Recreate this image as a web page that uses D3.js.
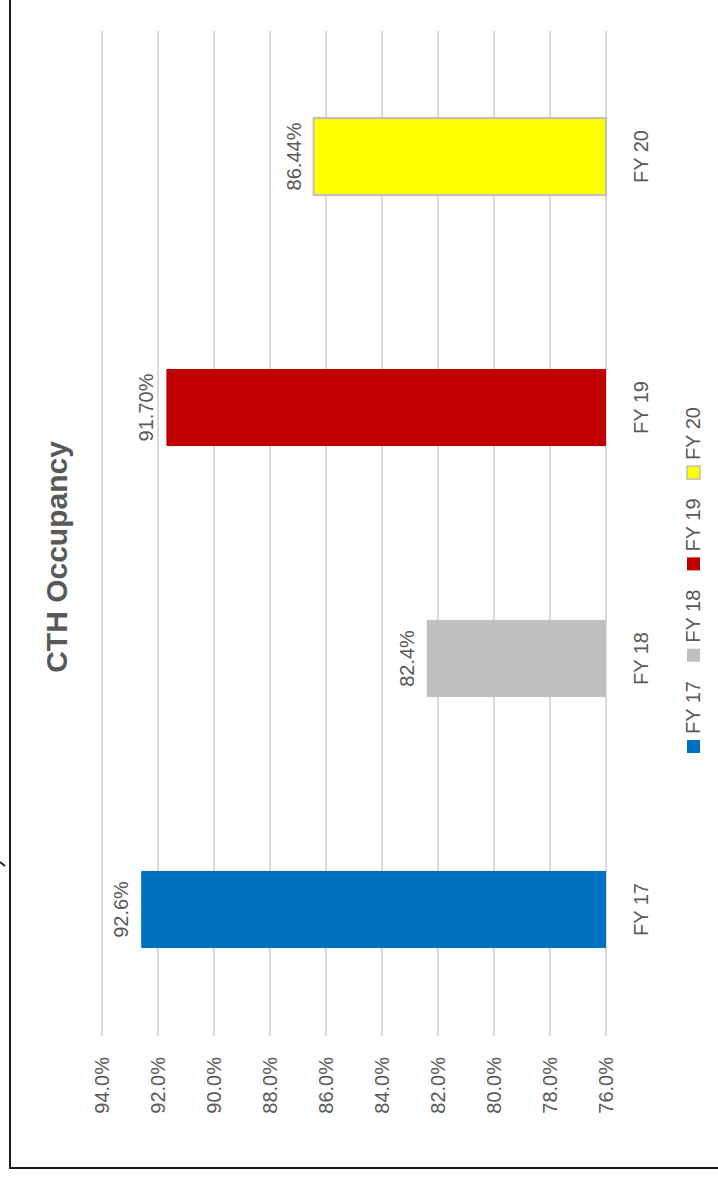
<!DOCTYPE html>
<html><head><meta charset="utf-8">
<script src="https://cdn.jsdelivr.net/npm/d3@7"></script>
<style>html,body{margin:0;padding:0;background:#fff;} svg{display:block;}</style>
</head><body>
<svg id="c" width="718" height="1185"></svg>
<script>
const categories = ["FY 17", "FY 18", "FY 19", "FY 20"];
const values = [92.6, 82.4, 91.7, 86.44];
const valueLabels = ["92.6%", "82.4%", "91.70%", "86.44%"];
const colors = ["#0070C0", "#BFBFBF", "#C00000", "#FFFF00"];
const tickValues = [76, 78, 80, 82, 84, 86, 88, 90, 92, 94];
const title = "CTH Occupancy";

const svg = d3.select("#c");
const txt = "#595959";
const font = "'Liberation Sans', Arial, sans-serif";

// frame
svg.append("path").attr("d", "M10,0 V1168 H718").attr("fill", "none")
  .attr("stroke", "#1a1a1a").attr("stroke-width", 2);
svg.append("path").attr("d", "M0,862 L5,866").attr("stroke", "#222").attr("stroke-width", 2);

// scales (chart is rotated 90° counter-clockwise)
const x = d3.scaleLinear().domain([76, 94]).range([606, 102]);
const y = d3.scaleBand().domain(categories.slice().reverse()).range([31, 1035])
  .paddingInner(0.693).paddingOuter(0.3465);

// gridlines
svg.append("g").selectAll("line").data(tickValues).join("line")
  .attr("x1", d => x(d)).attr("x2", d => x(d)).attr("y1", 31).attr("y2", 1036)
  .attr("stroke", "#D9D9D9").attr("stroke-width", 2);

// tick labels
svg.append("g").selectAll("text").data(tickValues).join("text")
  .attr("transform", d => `translate(${x(d)},1057) rotate(-90)`)
  .attr("text-anchor", "end").attr("dy", "0.36em")
  .attr("font-family", font).attr("font-size", 20).attr("fill", txt)
  .text(d => d.toFixed(1) + "%");

// bars
const data = categories.map((c, i) => ({c, v: values[i], lab: valueLabels[i], col: colors[i]}));
svg.append("g").selectAll("rect").data(data).join("rect")
  .attr("x", d => x(d.v)).attr("y", d => y(d.c))
  .attr("width", d => x(76) - x(d.v)).attr("height", y.bandwidth())
  .attr("fill", d => d.col)
  .attr("stroke", d => d.c === "FY 20" ? "#BFBFBF" : "none").attr("stroke-width", 2);

// value labels
svg.append("g").selectAll("text").data(data).join("text")
  .attr("transform", d => `translate(${x(d.v) - 13},${y(d.c) + y.bandwidth() / 2}) rotate(-90)`)
  .attr("text-anchor", "middle")
  .attr("font-family", font).attr("font-size", 20).attr("fill", txt)
  .text(d => d.lab);

// category labels
svg.append("g").selectAll("text").data(categories).join("text")
  .attr("transform", d => `translate(648,${y(d) + y.bandwidth() / 2}) rotate(-90)`)
  .attr("text-anchor", "middle")
  .attr("font-family", font).attr("font-size", 20).attr("fill", txt)
  .text(d => d);

// title
svg.append("text").attr("transform", "translate(67,557) rotate(-90)")
  .attr("text-anchor", "middle").attr("font-family", font).attr("font-weight", "bold")
  .attr("font-size", 30).attr("fill", txt).text(title);

// legend
const lg = svg.append("g").selectAll("g").data(data).join("g")
  .attr("transform", (d, i) => `translate(687,${753 - i * 91.3})`);
lg.append("rect").attr("x", 0).attr("y", -13).attr("width", 13).attr("height", 13)
  .attr("fill", d => d.col)
  .attr("stroke", d => d.c === "FY 20" ? "#BFBFBF" : "none").attr("stroke-width", 1.5);
lg.append("text").attr("transform", "translate(13,-19) rotate(-90)")
  .attr("font-family", font).attr("font-size", 20).attr("fill", txt)
  .text(d => d.c);
</script>
</body></html>
